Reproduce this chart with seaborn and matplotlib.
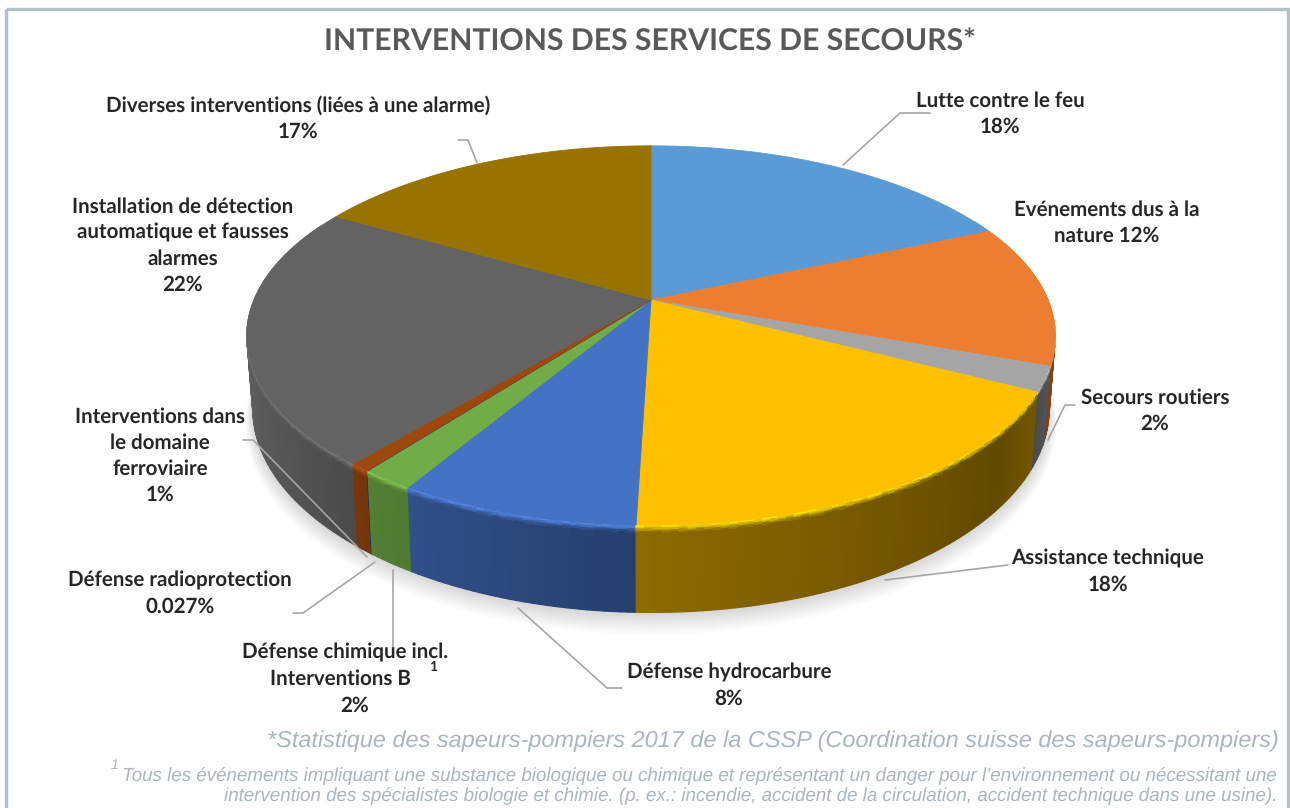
import numpy as np
import matplotlib
matplotlib.use("Agg")
import matplotlib.pyplot as plt
import seaborn as sns
from matplotlib.collections import PolyCollection
from matplotlib.patches import Rectangle
from matplotlib.path import Path
from matplotlib.colors import to_rgb

# ---------- data ----------
categories = ["Lutte contre le feu", "Evénements dus à la nature", "Secours routiers",
              "Assistance technique", "Défense hydrocarbure", "Défense chimique incl. Interventions B",
              "Défense radioprotection", "Interventions dans le domaine ferroviaire",
              "Installation de détection automatique et fausses alarmes",
              "Diverses interventions (liées à une alarme)"]
shares = [18.4, 12.1, 2.1, 17.9, 8.1, 1.8, 0.027, 0.7, 22.2, 16.7]
slice_colors = ["#5b9bd5", "#ed7d31", "#a5a5a5", "#ffc000", "#4472c4",
                "#70ad47", "#264478", "#9e480e", "#636363", "#997300"]
label_texts = ["Lutte contre le feu\n18%", "Evénements dus à la\nnature 12%", "Secours routiers\n2%",
               "Assistance technique\n18%", "Défense hydrocarbure\n8%",
               "Défense chimique incl.", "Interventions B", "2%", "Défense radioprotection\n0.027%",
               "Interventions dans\nle domaine\nferroviaire\n1%",
               "Installation de détection\nautomatique et fausses\nalarmes\n22%",
               "Diverses interventions (liées à une alarme)\n17%"]
title_text = "INTERVENTIONS DES SERVICES DE SECOURS*"
note_main = "*Statistique des sapeurs-pompiers 2017 de la CSSP (Coordination suisse des sapeurs-pompiers)"
note_1 = "Tous les événements impliquant une substance biologique ou chimique et représentant un danger pour l’environnement ou nécessitant une"
note_2 = "intervention des spécialistes biologie et chimie. (p. ex.: incendie, accident de la circulation, accident technique dans une usine)."

# ---------- layout (pixels) ----------
label_xy = [(1000, 114), (1107, 223), (1155, 411), (1108, 572), (729, 686),
            (345, 652), (340, 679), (355, 706), (180, 594), (160, 456), (183, 246), (298, 118)]
leaders = [[(843, 165), (900, 113), (930, 113)],
           [(1048, 440), (1065, 405), (1075, 405)],
           [(885, 580), (1008, 565)],
           [(518, 608), (607, 688), (622, 688)],
           [(393, 570), (393, 650)],
           [(375, 562), (303, 613), (293, 613)],
           [(367, 557), (253, 440), (243, 440)],
           [(477, 163), (468, 140), (458, 140)]]
CX, CY, A, B, K, H = 651, 300, 183, 397, 0.187, 71

def project(t, r=1.0, z=0.0):
    x, y = r * np.cos(t), r * np.sin(t)
    w = 1 + K * y
    return CX + B * x / w * (1 - 0.015 * z), CY - A * y / w + z * H / w

def shade(t):
    phi = (90 - np.degrees(t)) % 360
    return np.interp(phi, [60, 90, 105, 118, 130, 180, 215, 230, 280, 300],
                     [.8, .7, .55, .45, .38, .55, .72, .82, 1.1, 1.1])

sns.set_theme(style="white")
plt.rcParams["text.hinting"] = "no_hinting"
plt.rcParams["text.hinting_factor"] = 8
fig = plt.figure(figsize=(12.9, 8.08), dpi=100, facecolor="white")
ax = fig.add_axes([0, 0, 1, 1])

wedges, _ = ax.pie(shares, colors=slice_colors, startangle=90, counterclock=False,
                   wedgeprops=dict(linewidth=0.6))
ax.set_aspect("auto")
ax.set_xlim(0, 1290)
ax.set_ylim(808, 0)
ax.axis("off")

# top face: re-map each wedge through the perspective
for w_, col in zip(wedges, slice_colors):
    ts = np.radians(np.linspace(w_.theta1, w_.theta2, max(3, int(w_.theta2 - w_.theta1) * 2)))
    px, py = project(ts)
    verts = np.vstack([[CX, CY], np.c_[px, py], [CX, CY]])
    w_._path = Path(verts, closed=True)
    w_.set_edgecolor(col)
    w_.set_zorder(5)

# soft shadow under the disc
ts = np.radians(np.linspace(0, 360, 361))
for i in range(10):
    sx, sy = project(ts, 1 + 0.002 * (10 - i), 1 + 0.018 * (10 - i))
    ax.fill(sx, sy, color="#000000", alpha=0.014, lw=0, zorder=1)

# side wall
levels = [0, .015, .03, .045, .06, .08, 1]
rim = [1.0, .8, .6, .35, .15, 0.0]
polys, faces, depth = [], [], []
for w_, col in zip(wedges, slice_colors):
    base = np.array(to_rgb(col))
    n = max(2, int((w_.theta2 - w_.theta1) / 1.0) + 1)
    ang = np.radians(np.linspace(w_.theta1, w_.theta2, n + 1))
    for a0, a1 in zip(ang[:-1], ang[1:]):
        if np.sin(a0) > 0.45:
            continue
        side = np.clip(base * shade((a0 + a1) / 2), 0, 1)
        top = np.clip(base * 1.15 + 0.02, 0, 1)
        for j in range(len(levels) - 1):
            x00, y00 = project(a0, 1, levels[j]); x01, y01 = project(a1, 1, levels[j])
            x11, y11 = project(a1, 1, levels[j + 1]); x10, y10 = project(a0, 1, levels[j + 1])
            polys.append([(x00, y00), (x01, y01), (x11, y11), (x10, y10)])
            faces.append(rim[j] * top + (1 - rim[j]) * side)
            depth.append(np.sin(a0))
order = np.argsort(depth)[::-1]
pc = PolyCollection([polys[i] for i in order], facecolors=[faces[i] for i in order],
                    edgecolors=[faces[i] for i in order], linewidths=0.9, zorder=3)
ax.add_collection(pc)

# leader lines
for pts in leaders:
    arr = np.array(pts)
    ax.plot(arr[:, 0], arr[:, 1], color="#a6a6a6", lw=1.2, zorder=6, solid_capstyle="round")

# labels
LABEL = dict(family="Lato", weight="bold", color="#262626", ha="center", va="center",
             fontsize=14.8, linespacing=1.45, zorder=7)
for (x, y), txt in zip(label_xy, label_texts):
    ax.text(x, y, txt, **LABEL)
ax.text(433, 667, "1", family="Lato", weight="bold", color="#262626", ha="center", va="center",
        fontsize=10, zorder=7)

ax.text(650, 41, title_text, family="Lato", weight="bold", color="#595959", ha="center",
        va="center", fontsize=21.7, zorder=7)

NOTE = dict(family="Liberation Sans", style="italic", color="#aab6bc", ha="right", va="center", zorder=7)
ax.text(1279, 741, note_main, fontsize=16.9, **NOTE)
ax.text(1277, 776, note_1, fontsize=13.5, **NOTE)
ax.text(1277, 796, note_2, fontsize=13.5, **NOTE)
ax.text(118, 765, "1", fontsize=10, **NOTE)

# frame
ax.add_patch(Rectangle((6, 9), 1282, 830, fill=False, edgecolor="#b4c1c7", lw=2.4, zorder=8))

fig.savefig("out.png", dpi=100, facecolor="white")
